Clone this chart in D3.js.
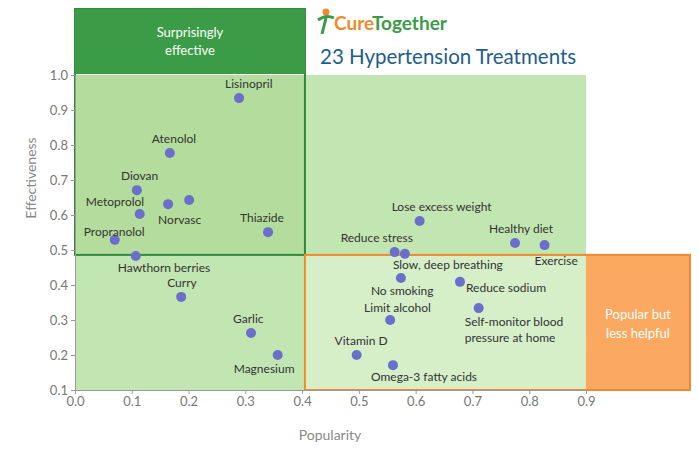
<!DOCTYPE html><html><head><meta charset="utf-8"><script src="https://cdn.jsdelivr.net/npm/d3@7"></script>
<style>body{margin:0;background:#fff}text{font-family:Lato,"Open Sans",sans-serif}</style></head><body>
<svg id="c" width="699" height="449"></svg>
<script>
const names=["Lisinopril","Atenolol","Diovan","Metoprolol","Norvasc","","Propranolol","Hawthorn berries","Curry","Thiazide","Garlic","Magnesium","Lose excess weight","Reduce stress","Slow, deep breathing","Healthy diet","Exercise","No smoking","Reduce sodium","Self-monitor blood\npressure at home","Limit alcohol","Vitamin D","Omega-3 fatty acids"];
const popularity=[0.289,0.167,0.109,0.114,0.164,0.201,0.070,0.107,0.187,0.340,0.310,0.357,0.607,0.563,0.581,0.775,0.827,0.574,0.678,0.711,0.555,0.496,0.560];
const effectiveness=[0.934,0.777,0.671,0.603,0.631,0.643,0.529,0.483,0.366,0.551,0.263,0.2,0.583,0.494,0.489,0.52,0.514,0.42,0.409,0.334,0.3,0.2,0.171];
const labelPos=[[-14,-10],[-18,-10],[-16,-10],[-54,-8],[-10,20],[0,0],[-31,-4],[-18,16],[-14,-10],[-28,-10],[-18,-10],[-44,18],[-28,-10],[-54,-10],[-12,15],[-26,-10],[-10,20],[-30,17],[6,10],[-14,18],[-26,-8],[-22,-10],[-22,16]];
const xTicks=[0,0.1,0.2,0.3,0.4,0.5,0.6,0.7,0.8,0.9];
const yTicks=[0.1,0.2,0.3,0.4,0.5,0.6,0.7,0.8,0.9,1.0];
const svg=d3.select("#c");
const x=d3.scaleLinear().domain([0,0.9]).range([75,586]);
const y=d3.scaleLinear().domain([0.1,1.0]).range([390,75]);
const xm=x(0.405), ym=y(0.486);
svg.append("rect").attr("x",x(0)).attr("y",ym).attr("width",xm-x(0)).attr("height",390-ym).attr("fill","#c2e6b2");
svg.append("rect").attr("x",xm).attr("y",75).attr("width",586-xm).attr("height",ym-75).attr("fill","#c2e6b2");
svg.append("rect").attr("x",xm).attr("y",ym).attr("width",586-xm).attr("height",390-ym).attr("fill","#d6efc9");
svg.append("rect").attr("x",x(0)).attr("y",75).attr("width",xm-x(0)).attr("height",ym-75).attr("fill","#b4dd9d");
svg.append("rect").attr("x",x(0)).attr("y",9).attr("width",xm-x(0)).attr("height",ym-9).attr("fill","none").attr("stroke","#2e8b3e").attr("stroke-width",2);
svg.append("rect").attr("x",x(0)).attr("y",9).attr("width",xm-x(0)).attr("height",65).attr("fill","#3c9b47");
svg.append("text").attr("x",(x(0)+xm)/2).attr("y",37).attr("text-anchor","middle").attr("fill","#fff").attr("font-size",13).text("Surprisingly");
svg.append("text").attr("x",(x(0)+xm)/2).attr("y",55).attr("text-anchor","middle").attr("fill","#fff").attr("font-size",13).text("effective");
svg.append("rect").attr("x",586).attr("y",ym).attr("width",104).attr("height",390-ym).attr("fill","#fba960");
svg.append("rect").attr("x",xm).attr("y",ym).attr("width",690-xm).attr("height",390-ym).attr("fill","none").attr("stroke","#f08a2c").attr("stroke-width",2);
svg.append("text").attr("x",638).attr("y",319).attr("text-anchor","middle").attr("fill","#fff").attr("font-size",13).text("Popular but");
svg.append("text").attr("x",638).attr("y",338).attr("text-anchor","middle").attr("fill","#fff").attr("font-size",13).text("less helpful");
svg.append("text").attr("x",320).attr("y",64).attr("fill","#1d5e8c").attr("font-size",20.5).text("23 Hypertension Treatments");
const lg=svg.append("text").attr("x",334).attr("y",30).attr("font-size",19).attr("font-weight","bold");
lg.append("tspan").attr("fill","#f08a2c").text("Cure");lg.append("tspan").attr("fill","#3c9b47").text("Together");
svg.append("circle").attr("cx",326).attr("cy",12).attr("r",3.5).attr("fill","#f08a2c");
svg.append("path").attr("d","M318,20 Q326,14 334,18 M326,18 L322,34").attr("stroke","#3c9b47").attr("stroke-width",3).attr("fill","none");
const xa=svg.append("g").attr("transform","translate(0,390)").call(d3.axisBottom(x).tickValues(xTicks).tickFormat(d3.format(".1f")).tickSize(4));
const ya=svg.append("g").attr("transform","translate(75,0)").call(d3.axisLeft(y).tickValues(yTicks).tickFormat(d3.format(".1f")).tickSize(4));
[xa,ya].forEach(a=>{a.selectAll("text").attr("fill","#777").attr("font-size",13).style("font-family","Lato,sans-serif");a.selectAll("line,path").attr("stroke","#999");});
svg.append("text").attr("x",330).attr("y",440).attr("text-anchor","middle").attr("fill","#888").attr("font-size",14).text("Popularity");
svg.append("text").attr("transform","translate(36,178) rotate(-90)").attr("text-anchor","middle").attr("fill","#888").attr("font-size",14).text("Effectiveness");
const data=names.map((n,i)=>({n,px:popularity[i],e:effectiveness[i],lp:labelPos[i]}));
svg.selectAll("circle.p").data(data).join("circle").attr("class","p").attr("cx",d=>x(d.px)).attr("cy",d=>y(d.e)).attr("r",5).attr("fill","#6a6fc9");
data.forEach(d=>{if(!d.n)return;d.n.split("\n").forEach((l,j)=>svg.append("text").attr("x",x(d.px)+d.lp[0]).attr("y",y(d.e)+d.lp[1]+j*16).attr("font-size",12).attr("fill","#333").text(l));});
</script></body></html>
